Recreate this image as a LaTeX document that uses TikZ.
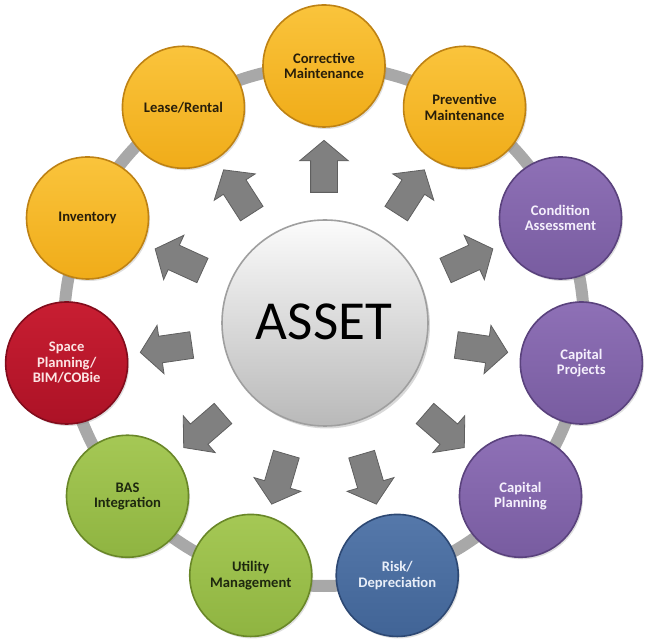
\documentclass[tikz,border=0pt]{standalone}
\usepackage{fontspec}
\setmainfont{Carlito}
\usetikzlibrary{shapes.arrows,shadows}
\definecolor{yelT}{RGB}{250,196,60}
\definecolor{yelB}{RGB}{240,172,25}
\definecolor{yelE}{RGB}{190,130,20}
\definecolor{yelX}{RGB}{40,30,10}
\definecolor{purT}{RGB}{142,112,182}
\definecolor{purB}{RGB}{120,92,160}
\definecolor{purE}{RGB}{90,66,125}
\definecolor{purX}{RGB}{245,240,252}
\definecolor{redT}{RGB}{200,30,50}
\definecolor{redB}{RGB}{172,18,38}
\definecolor{redE}{RGB}{130,12,28}
\definecolor{redX}{RGB}{252,228,228}
\definecolor{grnT}{RGB}{165,200,85}
\definecolor{grnB}{RGB}{143,180,65}
\definecolor{grnE}{RGB}{105,135,40}
\definecolor{grnX}{RGB}{30,40,15}
\definecolor{bluT}{RGB}{85,120,170}
\definecolor{bluB}{RGB}{65,100,150}
\definecolor{bluE}{RGB}{45,72,115}
\definecolor{bluX}{RGB}{232,238,248}
\definecolor{ringC}{RGB}{168,168,168}
\definecolor{arrF}{RGB}{128,128,128}
\definecolor{arrE}{RGB}{95,95,95}
\tikzset{
  bubble/.style={circle, minimum size=122pt, inner sep=0pt, align=center,
    font=\fontsize{14.6}{15.5}\selectfont\bfseries, line width=1.6pt,
    drop shadow={opacity=0.25, shadow xshift=1.5pt, shadow yshift=-2pt}},
  yel/.style={bubble, draw=yelE, top color=yelT, bottom color=yelB, text=yelX},
  pur/.style={bubble, draw=purE, top color=purT, bottom color=purB, text=purX},
  red/.style={bubble, draw=redE, top color=redT, bottom color=redB, text=redX},
  grn/.style={bubble, draw=grnE, top color=grnT, bottom color=grnB, text=grnX},
  blu/.style={bubble, draw=bluE, top color=bluT, bottom color=bluB, text=bluX},
  arr/.style={single arrow, draw=arrE, fill=arrF, line width=0.8pt,
    minimum height=52pt, minimum width=48pt, inner xsep=0pt, inner ysep=13pt,
    single arrow head extend=11pt, single arrow tip angle=100},
  hub/.style={circle, minimum size=206pt, inner sep=0pt, draw=gray!75, line width=1.6pt,
    top color=white!97!gray, bottom color=gray!55,
    drop shadow={opacity=0.3, shadow xshift=2pt, shadow yshift=-2.5pt}}
}
\begin{document}
\begin{tikzpicture}[x=1pt,y=1pt]
\useasboundingbox (-324,-318) rectangle (326,326);
\draw[ringC, line width=12pt] (0,0) circle (260);
\node[hub] (hub) at (1,3) {};
\node (lbl) at (0,4) {\fontsize{55}{55}\selectfont ASSET};
\foreach \k/\s/\t in {0/yel/{Corrective\\Maintenance},
  1/yel/{Lease/Rental},
  2/yel/{Inventory},
  3/red/{Space\\Planning/\\BIM/COBie},
  4/grn/{BAS\\Integration},
  5/grn/{Utility\\Management},
  6/blu/{Risk/\\Depreciation},
  7/pur/{Capital\\Planning},
  8/pur/{Capital\\Projects},
  9/pur/{Condition\\Assessment},
  10/yel/{Preventive\\Maintenance}}{
  \pgfmathsetmacro{\a}{90+\k*360/11}
  \node[\s] (c\k) at (\a:260) {\t};
  \node[arr, rotate=\a] (ar\k) at (\a:154) {};
}
\end{tikzpicture}
\end{document}
